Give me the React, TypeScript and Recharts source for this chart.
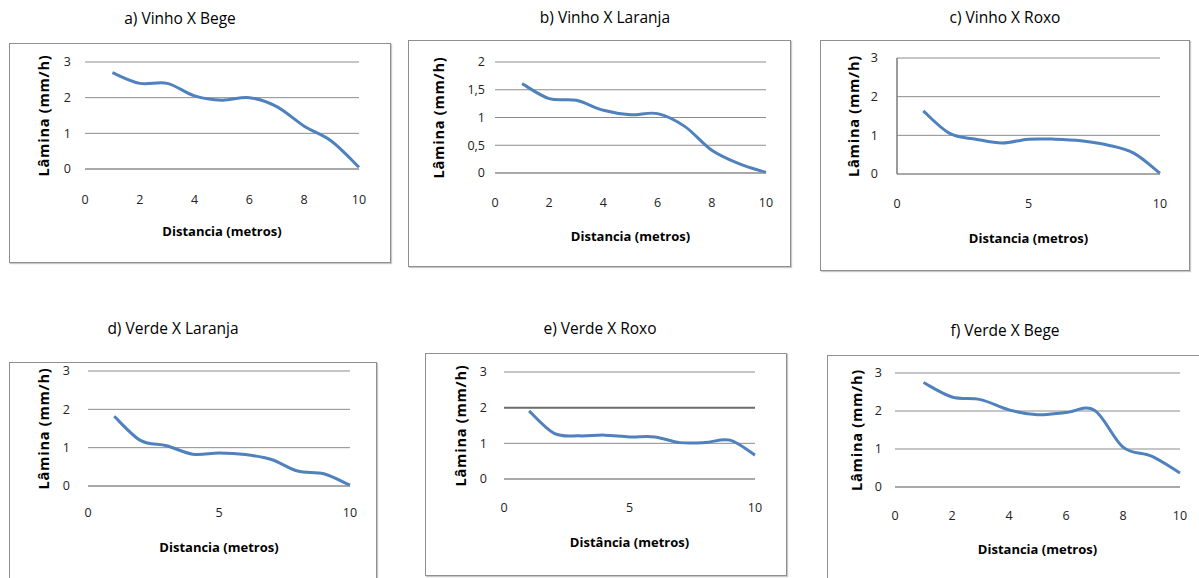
import React from 'react';
import { LineChart, Line, XAxis, YAxis, CartesianGrid, ReferenceLine, Label } from 'recharts';

// distance along the furrow (metros)
const distancia = [1, 2, 3, 4, 5, 6, 7, 8, 9, 10];

// lamina (mm/h)
const vinhoBege = [2.7, 2.4, 2.4, 2.05, 1.93, 2.0, 1.75, 1.2, 0.78, 0.05];
const vinhoLaranja = [1.61, 1.34, 1.31, 1.13, 1.05, 1.07, 0.84, 0.41, 0.17, 0.01];
const vinhoRoxo = [1.63, 1.05, 0.9, 0.8, 0.9, 0.9, 0.86, 0.75, 0.54, 0.02];
const verdeLaranja = [1.82, 1.19, 1.05, 0.83, 0.86, 0.82, 0.69, 0.39, 0.32, 0.02];
const verdeRoxo = [1.91, 1.28, 1.21, 1.23, 1.18, 1.18, 1.02, 1.02, 1.09, 0.67];
const verdeBege = [2.75, 2.37, 2.3, 2.03, 1.9, 1.96, 2.02, 1.05, 0.81, 0.37];

const xTicksBy2 = [0, 2, 4, 6, 8, 10];
const xTicksBy5 = [0, 5, 10];
const yTicks3 = [0, 1, 2, 3];
const yTicks2 = [0, 0.5, 1, 1.5, 2];

const BLUE = '#4F81BD';
const GRID = '#8c8c8c';
const FONT = '"Open Sans", "Noto Sans", sans-serif';

// Excel-style smoothed line: catmull-rom through every point
const excelSmooth = (context: any) => {
  let pts: [number, number][] = [];
  return {
    areaStart() {},
    areaEnd() {},
    lineStart() {
      pts = [];
    },
    lineEnd() {
      const n = pts.length;
      if (!n) return;
      context.moveTo(pts[0][0], pts[0][1]);
      const k = 1 / 6;
      for (let i = 0; i < n - 1; i++) {
        const p0 = pts[Math.max(i - 1, 0)];
        const p1 = pts[i];
        const p2 = pts[i + 1];
        const p3 = pts[Math.min(i + 2, n - 1)];
        context.bezierCurveTo(
          p1[0] + (p2[0] - p0[0]) * k,
          p1[1] + (p2[1] - p0[1]) * k,
          p2[0] - (p3[0] - p1[0]) * k,
          p2[1] - (p3[1] - p1[1]) * k,
          p2[0],
          p2[1],
        );
      }
    },
    point(x: number, y: number) {
      pts.push([+x, +y]);
    },
  };
};

type Box = { l: number; t: number; r: number; b: number };

type PanelProps = {
  title: string;
  titleX: number;
  titleY: number;
  values: number[];
  xTicks: number[];
  yTicks: number[];
  xLabel: string;
  box: Box;
  plot: Box;
  yLabelX: number; // centre of the rotated y title
  yTickGap: number;
  xTickGap: number; // centre of tick labels below plot
  xLabelGap: number; // centre of x title below plot
  yAxisLine?: boolean;
  strongLine?: number;
};

const comma = (v: number) => String(v).replace('.', ',');

function YTitle({ viewBox, gap }: any) {
  const cx = viewBox.x + viewBox.width - gap;
  const cy = viewBox.y + viewBox.height / 2;
  return (
    <text
      x={cx}
      y={cy}
      transform={`rotate(-90 ${cx} ${cy})`}
      textAnchor="middle"
      dominantBaseline="central"
      style={{ fontSize: 14.5, fontWeight: 700, fill: '#000', letterSpacing: 0.8 }}
    >
      Lâmina (mm/h)
    </text>
  );
}

function Panel(p: PanelProps) {
  const data = distancia.map((d, i) => ({ d, v: p.values[i] }));
  const w = p.box.r - p.box.l;
  const h = p.box.b - p.box.t;
  const yW = p.plot.l - p.box.l;
  const xH = p.box.b - p.plot.b;
  const margin = {
    top: p.plot.t - p.box.t,
    right: p.box.r - p.plot.r,
    left: 0,
    bottom: 0,
  };
  const yMax = p.yTicks[p.yTicks.length - 1];
  return (
    <>
      <div
        style={{
          position: 'absolute',
          left: p.titleX - 120,
          top: p.titleY - 11,
          width: 240,
          lineHeight: '22px',
          textAlign: 'center',
          fontSize: 15.5,
          color: '#000',
        }}
      >
        {p.title}
      </div>
      <div
        style={{
          position: 'absolute',
          left: p.box.l,
          top: p.box.t,
          width: w,
          height: h,
          boxSizing: 'border-box',
          border: '1px solid #8f8f8f',
          boxShadow: '1px 1px 1px #c8c8c8',
        }}
      />
      <div style={{ position: 'absolute', left: p.box.l, top: p.box.t }}>
        <LineChart width={w} height={h} data={data} margin={margin}>
          <CartesianGrid vertical={false} stroke={GRID} />
          <XAxis
            dataKey="d"
            type="number"
            domain={[0, 10]}
            ticks={p.xTicks}
            height={xH}
            tickSize={0}
            tickMargin={p.xTickGap - 5}
            axisLine={{ stroke: GRID }}
            tick={{ fill: '#222', fontSize: 12.5 }}
          >
            <Label
              value={p.xLabel}
              position="insideTop"
              offset={p.xLabelGap - 5}
              style={{ fontSize: 13, fontWeight: 700, fill: '#000' }}
            />
          </XAxis>
          <YAxis
            type="number"
            domain={[0, yMax]}
            ticks={p.yTicks}
            width={yW}
            tickSize={0}
            tickMargin={p.yTickGap}
            axisLine={p.yAxisLine ? { stroke: '#7a7a7a', strokeWidth: 1.5 } : false}
            tickFormatter={comma}
            tick={{ fill: '#222', fontSize: 12.5 }}
          >
            <Label content={(props: any) => <YTitle {...props} gap={p.plot.l - p.yLabelX} />} />
          </YAxis>
          {p.strongLine !== undefined && (
            <ReferenceLine y={p.strongLine} stroke="#6e6e6e" strokeWidth={2} />
          )}
          <Line
            type={excelSmooth as any}
            dataKey="v"
            stroke={BLUE}
            strokeWidth={3}
            dot={false}
            isAnimationActive={false}
          />
        </LineChart>
      </div>
    </>
  );
}

export default function App() {
  return (
    <div
      style={{
        position: 'absolute',
        left: 0,
        top: 0,
        width: 1199,
        height: 578,
        overflow: 'hidden',
        background: '#fff',
        fontFamily: FONT,
      }}
    >
      <Panel
        title="a) Vinho X Bege"
        titleX={180}
        titleY={18}
        values={vinhoBege}
        xTicks={xTicksBy2}
        yTicks={yTicks3}
        xLabel="Distancia  (metros)"
        box={{ l: 9, t: 43, r: 391, b: 263 }}
        plot={{ l: 85, t: 62, r: 359, b: 169 }}
        yLabelX={43}
        yTickGap={14}
        xTickGap={31}
        xLabelGap={63}
      />
      <Panel
        title="b) Vinho X Laranja"
        titleX={605}
        titleY={17}
        values={vinhoLaranja}
        xTicks={xTicksBy2}
        yTicks={yTicks2}
        xLabel="Distancia  (metros)"
        box={{ l: 408, t: 40, r: 791, b: 267 }}
        plot={{ l: 495, t: 62, r: 766, b: 173 }}
        yLabelX={438}
        yTickGap={10}
        xTickGap={30}
        xLabelGap={64}
      />
      <Panel
        title="c) Vinho X Roxo"
        titleX={1005}
        titleY={17}
        values={vinhoRoxo}
        xTicks={xTicksBy5}
        yTicks={yTicks3}
        xLabel="Distancia  (metros)"
        box={{ l: 820, t: 40, r: 1190, b: 271 }}
        plot={{ l: 897, t: 58, r: 1160, b: 174 }}
        yLabelX={853}
        yTickGap={19}
        xTickGap={30}
        xLabelGap={65}
        yAxisLine
      />
      <Panel
        title="d) Verde X Laranja"
        titleX={173}
        titleY={328}
        values={verdeLaranja}
        xTicks={xTicksBy5}
        yTicks={yTicks3}
        xLabel="Distancia  (metros)"
        box={{ l: 9, t: 362, r: 377, b: 600 }}
        plot={{ l: 88, t: 371, r: 350, b: 486 }}
        yLabelX={43}
        yTickGap={18}
        xTickGap={27}
        xLabelGap={62}
      />
      <Panel
        title="e) Verde X Roxo"
        titleX={600}
        titleY={328}
        values={verdeRoxo}
        xTicks={xTicksBy5}
        yTicks={yTicks3}
        xLabel="Distância  (metros)"
        box={{ l: 425, t: 353, r: 787, b: 576 }}
        plot={{ l: 504, t: 372, r: 755, b: 479 }}
        yLabelX={460}
        yTickGap={17}
        xTickGap={29}
        xLabelGap={64}
        strongLine={2}
      />
      <Panel
        title="f) Verde X Bege"
        titleX={1005}
        titleY={330}
        values={verdeBege}
        xTicks={xTicksBy2}
        yTicks={yTicks3}
        xLabel="Distancia  (metros)"
        box={{ l: 827, t: 355, r: 1215, b: 600 }}
        plot={{ l: 895, t: 373, r: 1180, b: 487 }}
        yLabelX={856}
        yTickGap={13}
        xTickGap={29}
        xLabelGap={63}
      />
    </div>
  );
}
